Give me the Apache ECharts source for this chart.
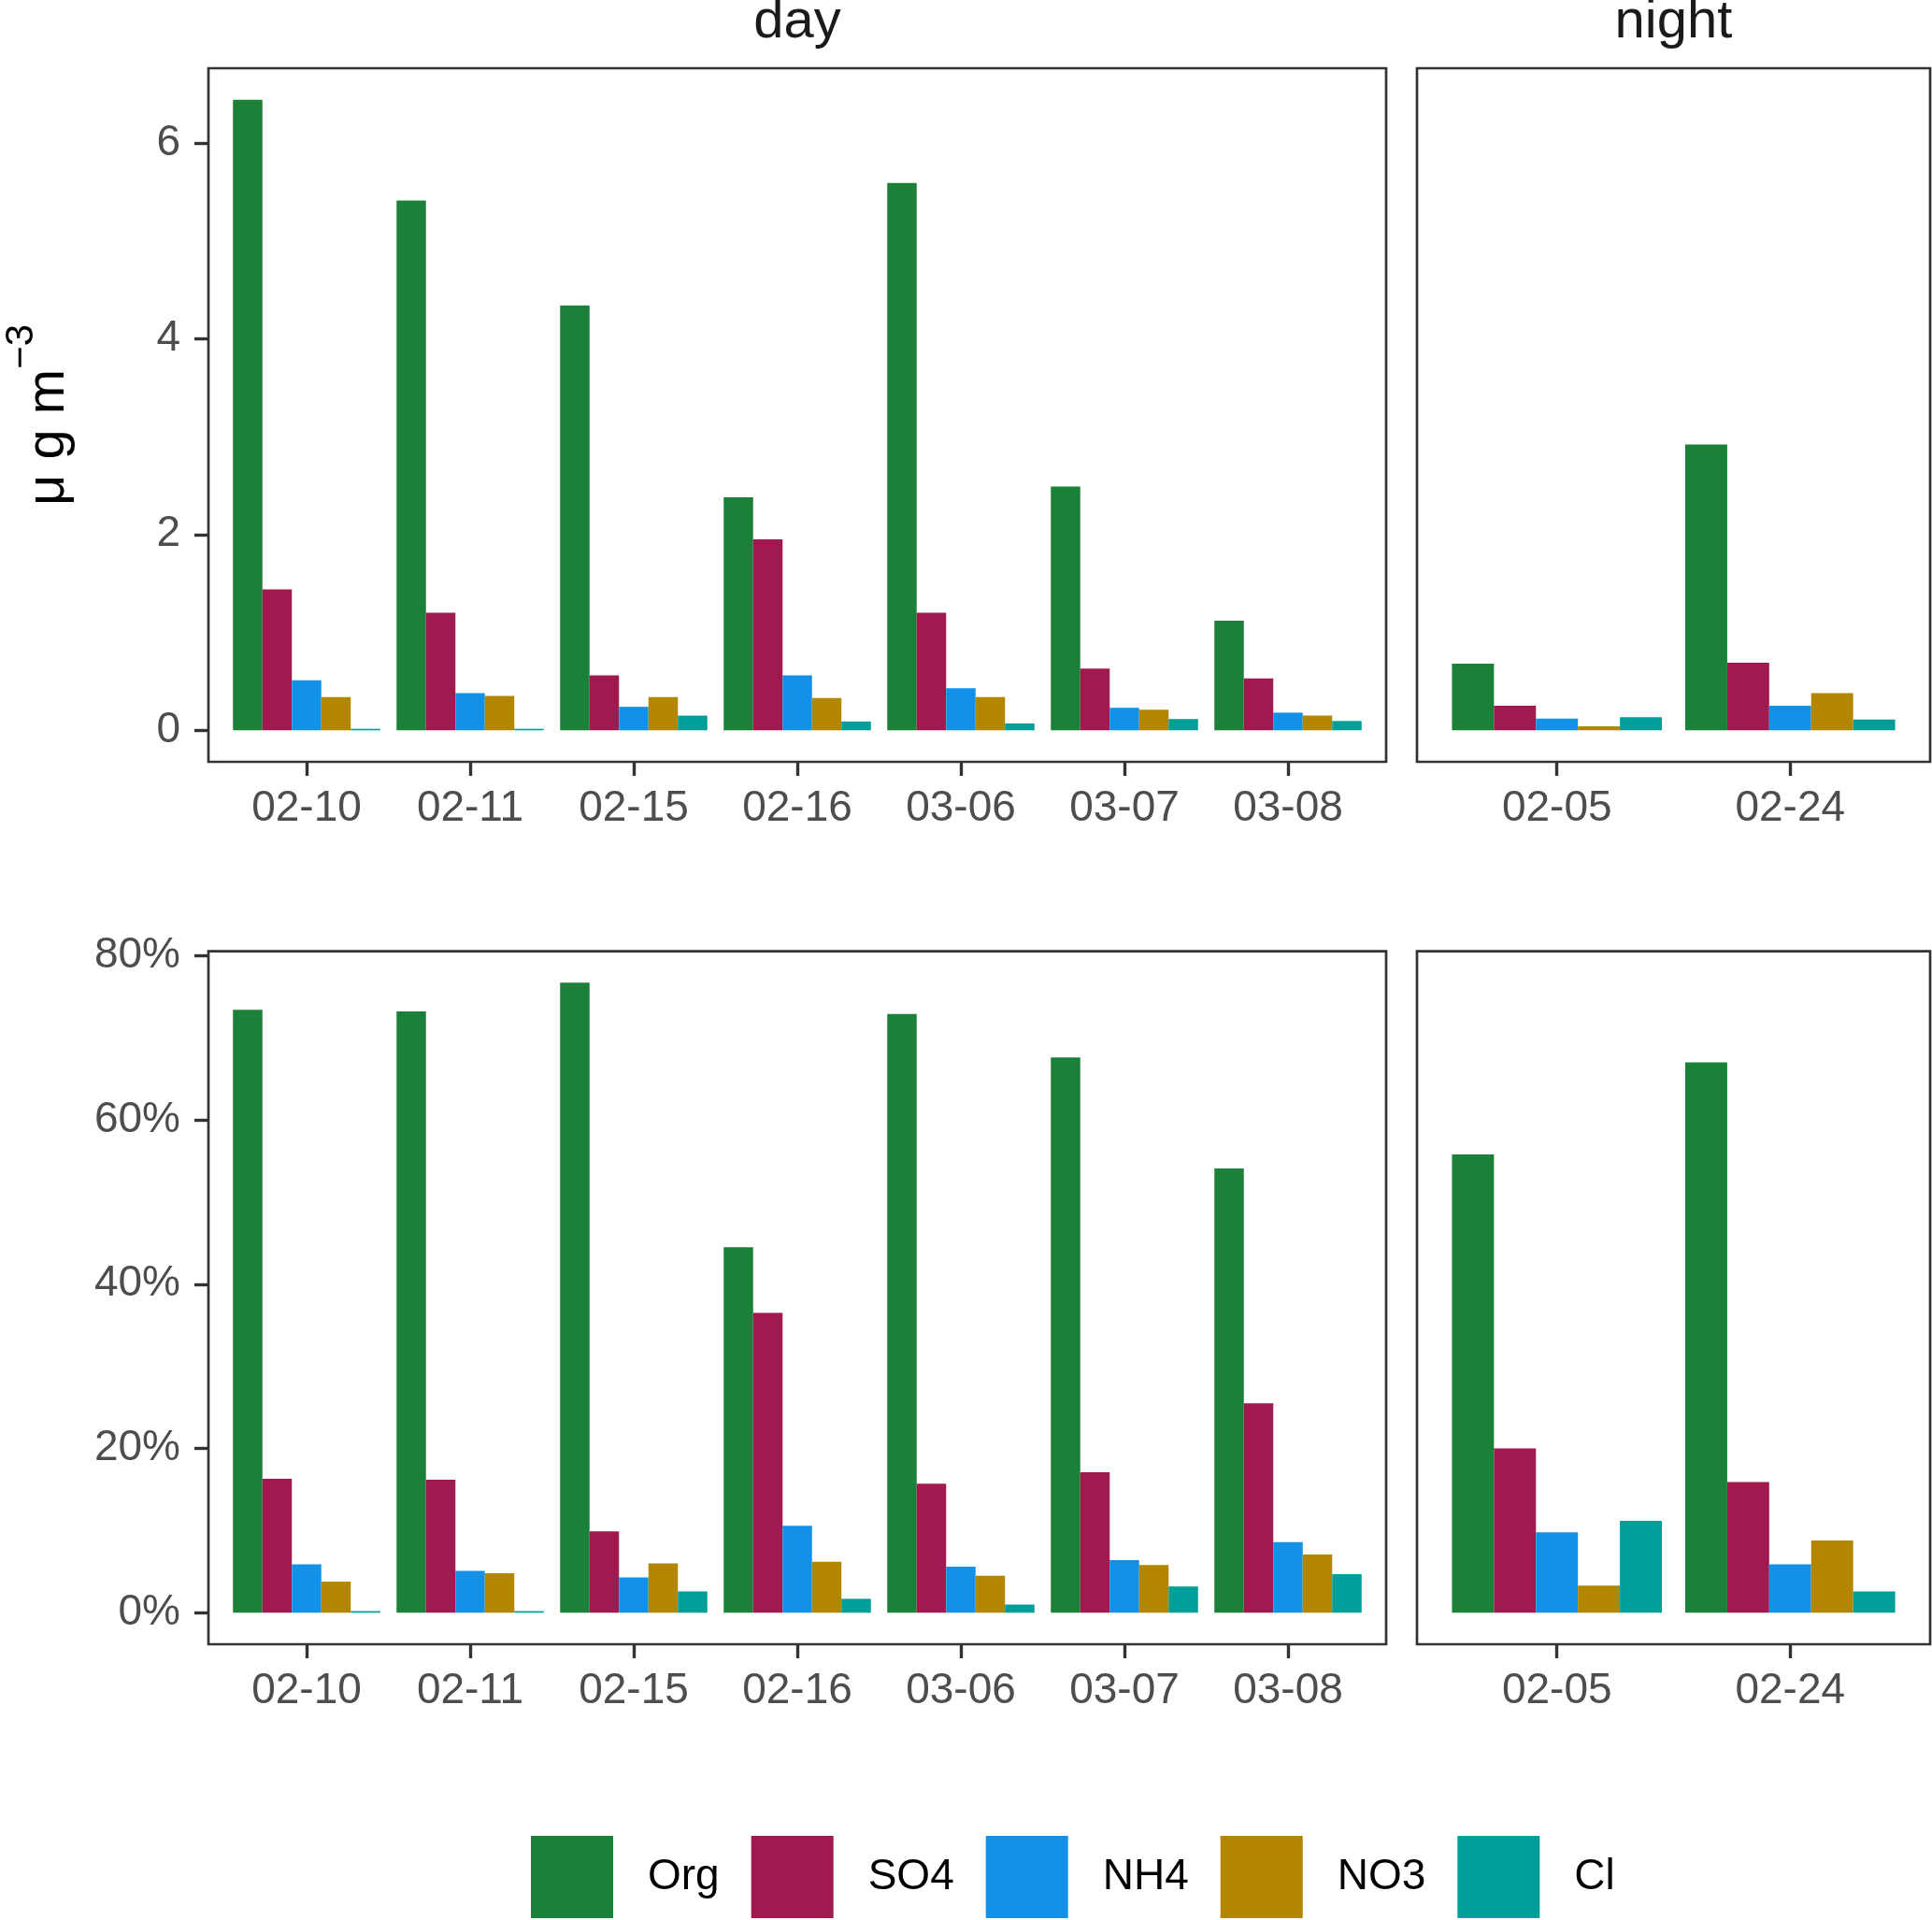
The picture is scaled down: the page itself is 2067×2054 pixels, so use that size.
<!DOCTYPE html>
<html>
<head>
<meta charset="utf-8">
<script src="https://cdn.jsdelivr.net/npm/echarts@6/dist/echarts.min.js"></script>
<style>
html,body{margin:0;padding:0;background:#fff;}
#chart{width:2067px;height:2054px;}
</style>
</head>
<body>
<div id="chart"></div>
<script>
// ---------------- data ----------------
const dates  = ['02-10','02-11','02-15','02-16','03-06','03-07','03-08','02-05','02-24'];
const period = ['day','day','day','day','day','day','day','night','night'];
const species = ['Org','SO4','NH4','NO3','Cl'];

// mass concentration (µg m-3)
const concOrg = [6.44, 5.41, 4.34, 2.38, 5.59, 2.49, 1.12, 0.68, 2.92];
const concSO4 = [1.44, 1.20, 0.56, 1.95, 1.20, 0.63, 0.53, 0.25, 0.69];
const concNH4 = [0.51, 0.38, 0.24, 0.56, 0.43, 0.23, 0.18, 0.12, 0.25];
const concNO3 = [0.34, 0.35, 0.34, 0.33, 0.34, 0.21, 0.15, 0.04, 0.38];
const concCl  = [0.015,0.015,0.15, 0.09, 0.07, 0.115,0.095,0.135,0.11];

// mass fraction (%)
const pctOrg = [73.4, 73.2, 76.7, 44.5, 72.9, 67.6, 54.1, 55.8, 67.0];
const pctSO4 = [16.3, 16.2,  9.9, 36.5, 15.7, 17.1, 25.5, 20.0, 15.9];
const pctNH4 = [ 5.9,  5.1,  4.3, 10.6,  5.6,  6.4,  8.6,  9.8,  5.9];
const pctNO3 = [ 3.8,  4.8,  6.0,  6.2,  4.5,  5.8,  7.1,  3.3,  8.8];
const pctCl  = [ 0.2,  0.2,  2.6,  1.7,  1.0,  3.2,  4.7, 11.2,  2.6];

const concTicks = [0, 2, 4, 6];
const pctTicks  = [0, 20, 40, 60, 80];

// ---------------- style / layout ----------------
const colors = {Org:'#1B8038', SO4:'#A0194F', NH4:'#1391E6', NO3:'#B38600', Cl:'#009E99'};
const FONT = '"Liberation Sans", Arial, sans-serif';
const conc = {Org:concOrg, SO4:concSO4, NH4:concNH4, NO3:concNO3, Cl:concCl};
const pct  = {Org:pctOrg,  SO4:pctSO4,  NH4:pctNH4,  NO3:pctNO3,  Cl:pctCl};

const periods = ['day','night'];
const catsOf = p => dates.filter((d,i)=>period[i]===p);
const valsOf = (arr,p) => arr.filter((v,i)=>period[i]===p);

// panel boxes (x ranges per column, y ranges per row)
const colX = { day:[223, 1483], night:[1516, 2065] };
const rowY = [[73, 815], [1017.6, 1759]];

function range(obj){
  let m = 0;
  species.forEach(s => obj[s].forEach(v => { if (v > m) m = v; }));
  return [-0.05*m, 1.05*m];
}
const concRange = range(conc);
const pctRange  = range(pct);

const grids = [], xAxes = [], yAxes = [], series = [], graphics = [];
let gi = 0;
[0,1].forEach(row => {
  periods.forEach(p => {
    const cats = catsOf(p);
    const [x0, x1] = colX[p];
    const band = (x1 - x0) / (cats.length + 0.2);
    const inset = 0.1 * band;
    const [y0, y1] = rowY[row];
    grids.push({left: x0 + inset, width: (x1 - x0) - 2*inset, top: y0, height: y1 - y0, containLabel:false});
    graphics.push({type:'rect', z:100, shape:{x:x0, y:y0, width:x1-x0, height:y1-y0},
      style:{fill:'none', stroke:'#333333', lineWidth:2.7}});
    xAxes.push({
      type:'category', gridIndex:gi, data:cats, position:'bottom',
      axisLine:{show:false, onZero:false},
      axisTick:{show:true, alignWithLabel:true, length:15, lineStyle:{color:'#333333', width:3.4}},
      axisLabel:{fontSize:46, color:'#4D4D4D', margin:27, fontFamily:FONT},
      splitLine:{show:false}
    });
    const rng = row === 0 ? concRange : pctRange;
    const isLeft = p === 'day';
    yAxes.push({
      type:'value', gridIndex:gi, min:rng[0], max:rng[1],
      offset: isLeft ? inset : 0,
      axisLine:{show:false, onZero:false},
      splitLine:{show:false},
      axisTick:{show:isLeft, length:15, lineStyle:{color:'#333333', width:3.4},
        customValues: row === 0 ? concTicks : pctTicks},
      axisLabel:{show:isLeft, fontSize:46, color:'#4D4D4D', margin:30, fontFamily:FONT,
        customValues: row === 0 ? concTicks : pctTicks,
        formatter: row === 0 ? '{value}' : '{value}%'}
    });
    species.forEach(s => {
      series.push({
        type:'bar', name:s, xAxisIndex:gi, yAxisIndex:gi,
        data: valsOf(row === 0 ? conc[s] : pct[s], p),
        barGap:'0%', barCategoryGap:'10%',
        itemStyle:{color:colors[s]},
        emphasis:{disabled:true}
      });
    });
    gi++;
  });
});

// strip titles
periods.forEach(p => {
  const [x0, x1] = colX[p];
  graphics.push({type:'text', x:(x0+x1)/2, y:24,
    style:{text:p, fontSize:58, fill:'#1A1A1A', align:'center', verticalAlign:'middle', fontFamily:FONT}});
});
// y axis title
graphics.push({type:'text', x:52, y:444, rotation:Math.PI/2,
  style:{text:'{a|μ g m}{b|−3}', align:'center', verticalAlign:'middle', fontFamily:FONT,
    rich:{a:{fontSize:58, lineHeight:100, fill:'#000000', fontFamily:FONT},
          b:{fontSize:42, lineHeight:34, verticalAlign:'top', fill:'#000000', fontFamily:FONT}}}});

const chart = echarts.init(document.getElementById('chart'), null, {renderer:'canvas'});
chart.setOption({
  backgroundColor:'#ffffff',
  animation:false,
  grid: grids,
  xAxis: xAxes,
  yAxis: yAxes,
  series: series,
  graphic: graphics,
  legend:{
    data: species, left: 568, top: 1964, padding: 0,
    itemWidth:88, itemHeight:88, itemGap:34, icon:'rect',
    textStyle:{fontSize:46, color:'#000000', fontFamily:FONT, padding:[8,0,0,32]},
    selectedMode:false
  }
});
</script>
</body>
</html>
